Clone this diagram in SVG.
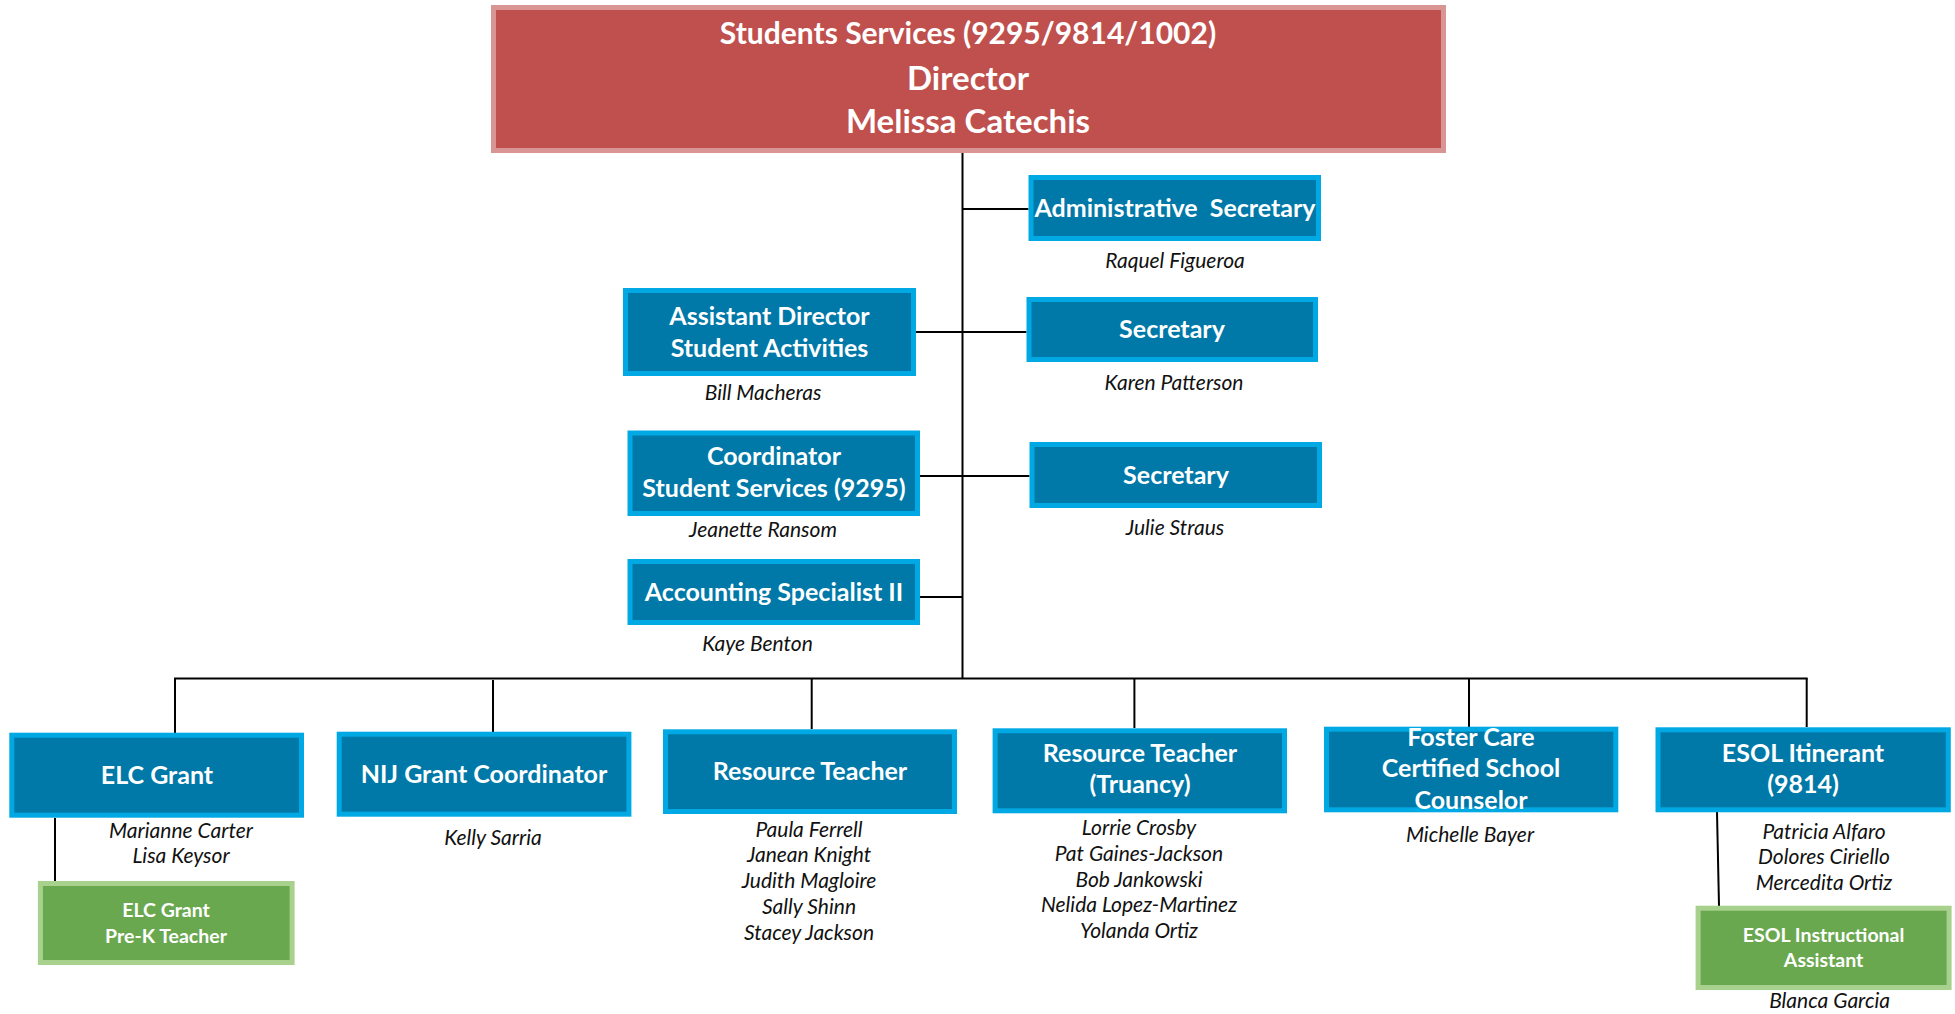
<svg xmlns="http://www.w3.org/2000/svg" width="1955" height="1014" viewBox="0 0 1955 1014">
<style>
.bg{fill:#ffffff}
.blue{fill:#0079a8;stroke:#00a9e3;stroke-width:5}
.red{fill:#c0504d;stroke:#d99594;stroke-width:5}
.green{fill:#6aa84f;stroke:#a9d18e;stroke-width:5}
.t{font-family:Lato,"Open Sans","Liberation Sans",sans-serif;font-weight:bold;fill:#ffffff;text-anchor:middle;font-size:25px}
.tt{font-family:Lato,"Open Sans","Liberation Sans",sans-serif;font-weight:bold;fill:#ffffff;text-anchor:middle;font-size:30px}
.tb{font-family:Lato,"Open Sans","Liberation Sans",sans-serif;font-weight:bold;fill:#ffffff;text-anchor:middle;font-size:33px}
.tg{font-family:Lato,"Open Sans","Liberation Sans",sans-serif;font-weight:bold;fill:#ffffff;text-anchor:middle;font-size:19.5px}
.n{font-family:Lato,"Open Sans","Liberation Sans",sans-serif;font-style:italic;fill:#111111;text-anchor:middle;font-size:21px}
.c{stroke:#000000;stroke-width:2;fill:none}
</style>
<rect class="bg" x="0" y="0" width="1955" height="1014"/>
<g id="connectors">
<line class="c" x1="962.5" y1="153" x2="962.5" y2="679"/>
<line class="c" x1="962.5" y1="209" x2="1028.5" y2="209"/>
<line class="c" x1="916" y1="332" x2="1026.5" y2="332"/>
<line class="c" x1="920" y1="476" x2="1029.5" y2="476"/>
<line class="c" x1="920" y1="597" x2="962.5" y2="597"/>
<line class="c" x1="174" y1="678.5" x2="1807.7" y2="678.5"/>
<line class="c" x1="175" y1="678.5" x2="175" y2="733"/>
<line class="c" x1="493" y1="680" x2="493" y2="732"/>
<line class="c" x1="811.7" y1="679" x2="811.7" y2="729"/>
<line class="c" x1="1134.4" y1="679" x2="1134.4" y2="728"/>
<line class="c" x1="1469" y1="679" x2="1469" y2="727"/>
<line class="c" x1="1806.7" y1="678.5" x2="1806.7" y2="727"/>
<line class="c" x1="55" y1="818" x2="55" y2="881"/>
<line class="c" x1="1717" y1="812" x2="1719" y2="906"/>
</g>
<g id="director">
<rect class="red" x="493.5" y="7.5" width="950" height="143"/>
<text class="tt" x="968" y="44">Students Services (9295/9814/1002)</text>
<text class="tb" x="968" y="90">Director</text>
<text class="tb" x="968" y="133">Melissa Catechis</text>
</g>
<g id="admin-secretary">
<rect class="blue" x="1031" y="177.5" width="287.5" height="61"/>
<text class="t" x="1175" y="217" style="white-space:pre">Administrative  Secretary</text>
<text class="n" x="1175" y="268">Raquel Figueroa</text>
</g>
<g id="assistant-director">
<rect class="blue" x="625.5" y="290.5" width="288" height="83"/>
<text class="t" x="769.5" y="325">Assistant Director</text>
<text class="t" x="769.5" y="357">Student Activities</text>
<text class="n" x="763" y="400">Bill Macheras</text>
</g>
<g id="secretary-1">
<rect class="blue" x="1029" y="299.5" width="286.5" height="60"/>
<text class="t" x="1172" y="338">Secretary</text>
<text class="n" x="1174" y="390">Karen Patterson</text>
</g>
<g id="coordinator">
<rect class="blue" x="630" y="433" width="287.5" height="80.5"/>
<text class="t" x="774" y="465">Coordinator</text>
<text class="t" x="774" y="497">Student Services (9295)</text>
<text class="n" x="763" y="537">Jeanette Ransom</text>
</g>
<g id="secretary-2">
<rect class="blue" x="1032" y="444.5" width="287.5" height="61"/>
<text class="t" x="1176" y="484">Secretary</text>
<text class="n" x="1175" y="535">Julie Straus</text>
</g>
<g id="accounting">
<rect class="blue" x="630" y="561.5" width="287.5" height="61"/>
<text class="t" x="774" y="601">Accounting Specialist II</text>
<text class="n" x="757.5" y="651">Kaye Benton</text>
</g>
<g id="elc-grant">
<rect class="blue" x="11.8" y="735.2" width="289.7" height="80"/>
<text class="t" x="157" y="784">ELC Grant</text>
<text class="n" x="181" y="838">Marianne Carter</text>
<text class="n" x="181" y="863">Lisa Keysor</text>
</g>
<g id="elc-prek">
<rect class="green" x="40.4" y="883.5" width="251.7" height="79"/>
<text class="tg" x="166" y="917">ELC Grant</text>
<text class="tg" x="166" y="943">Pre-K Teacher</text>
</g>
<g id="nij">
<rect class="blue" x="339.2" y="734.2" width="289.7" height="80"/>
<text class="t" x="484" y="783">NIJ Grant Coordinator</text>
<text class="n" x="493" y="845">Kelly Sarria</text>
</g>
<g id="resource-teacher">
<rect class="blue" x="665.5" y="731.8" width="289" height="79.7"/>
<text class="t" x="810" y="780">Resource Teacher</text>
<text class="n" x="809" y="837">Paula Ferrell</text>
<text class="n" x="809" y="862">Janean Knight</text>
<text class="n" x="809" y="888">Judith Magloire</text>
<text class="n" x="809" y="914">Sally Shinn</text>
<text class="n" x="809" y="940">Stacey Jackson</text>
</g>
<g id="resource-truancy">
<rect class="blue" x="995.1" y="730.8" width="289.4" height="80"/>
<text class="t" x="1140" y="762">Resource Teacher</text>
<text class="t" x="1140" y="793">(Truancy)</text>
<text class="n" x="1139" y="835">Lorrie Crosby</text>
<text class="n" x="1139" y="861">Pat Gaines-Jackson</text>
<text class="n" x="1139" y="887">Bob Jankowski</text>
<text class="n" x="1139" y="912">Nelida Lopez-Martinez</text>
<text class="n" x="1139" y="938">Yolanda Ortiz</text>
</g>
<g id="foster-care">
<rect class="blue" x="1326.5" y="729.2" width="289.3" height="80.6"/>
<text class="t" x="1471" y="746">Foster Care</text>
<text class="t" x="1471" y="777">Certified School</text>
<text class="t" x="1471" y="809">Counselor</text>
<text class="n" x="1470" y="842">Michelle Bayer</text>
</g>
<g id="esol-itinerant">
<rect class="blue" x="1658" y="729.8" width="290.3" height="80"/>
<text class="t" x="1803" y="762">ESOL Itinerant</text>
<text class="t" x="1803" y="793">(9814)</text>
<text class="n" x="1824" y="839">Patricia Alfaro</text>
<text class="n" x="1824" y="864">Dolores Ciriello</text>
<text class="n" x="1824" y="890">Mercedita Ortiz</text>
</g>
<g id="esol-assistant">
<rect class="green" x="1698.1" y="908.2" width="251" height="79.3"/>
<text class="tg" x="1823.6" y="942">ESOL Instructional</text>
<text class="tg" x="1823.6" y="967">Assistant</text>
<text class="n" x="1829.6" y="1008">Blanca Garcia</text>
</g>
</svg>
